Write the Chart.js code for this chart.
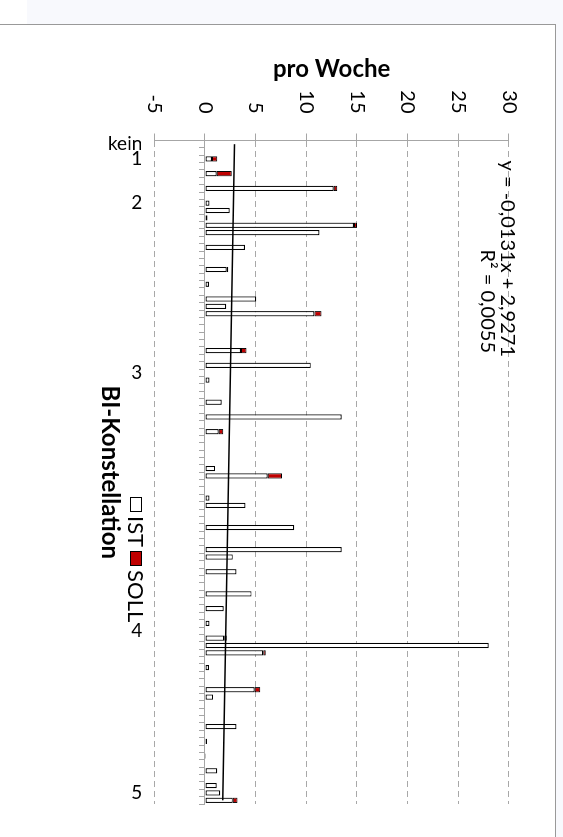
<!DOCTYPE html>
<html lang="de">
<head>
<meta charset="utf-8">
<title>pro Woche</title>
<script src="https://cdn.jsdelivr.net/npm/chart.js@4.4.1/dist/chart.umd.min.js"></script>
<style>
  html, body { margin: 0; padding: 0; }
  body { width: 563px; height: 837px; background: #f8f9fd; position: relative; overflow: hidden; font-family: Lato, sans-serif; }
  #corner { position: absolute; left: 0; top: 0; width: 27px; height: 24px; background: #fff; }
  #frame { position: absolute; left: -2px; top: 24px; width: 556px; height: 830px; background: #fff; border: 1px solid #999; }
  /* the chart is drawn upright and then turned a quarter clockwise, like the reference */
  #rot { position: absolute; left: 0; top: 0; width: 813px; height: 555px; transform-origin: 0 0; transform: translate(555px, 24px) rotate(90deg); }
  #legend { position: absolute; left: 473px; top: 405px; display: flex; align-items: center; font-size: 22px; color: #000; }
  #legend .item { display: flex; align-items: center; margin-right: 4px; }
  #legend .box { width: 15px; height: 12px; border: 1px solid #000; margin-right: 4px; box-sizing: border-box; }
</style>
</head>
<body>
<div id="corner"></div>
<div id="frame"></div>
<div id="rot">
  <canvas id="chart" width="813" height="555"></canvas>
  <div id="legend"></div>
</div>
<script>
// category labels (most categories carry no label)
const categories = [
    "kein", "", "1", "", "", "", "", "", "2", "",
    "", "", "", "", "", "", "", "", "", "",
    "", "", "", "", "", "", "", "", "", "",
    "", "3", "", "", "", "", "", "", "", "",
    "", "", "", "", "", "", "", "", "", "",
    "", "", "", "", "", "", "", "", "", "",
    "", "", "", "", "", "", "4", "", "", "",
    "", "", "", "", "", "", "", "", "", "",
    "", "", "", "", "", "", "", "", "5", ""
];

const istValues = [
    null, null, 0.7, null, 1.15, null, 12.7, null, 0.45, 2.45,
    0.25, 14.7, 11.3, null, 3.95, null, null, 2.15, null, 0.4,
    null, 5.05, 2.1, 10.8, null, null, null, null, 3.55, null,
    10.45, null, 0.45, null, null, 1.65, null, 13.5, null, 1.35,
    null, null, null, null, 1.0, 6.2, null, null, 0.45, 4.0,
    null, null, 8.8, null, null, 13.5, 2.75, null, 3.1, null,
    null, 4.6, null, 1.85, null, 0.45, null, 1.9, 28.0, 5.75,
    null, 0.4, null, null, 4.9, 0.8, null, null, null, 3.1,
    null, 0.2, null, 0.1, null, 1.2, null, 1.15, 1.5, 2.75
];

const sollValues = [
    null, null, 0.5, null, 1.5, null, 0.35, null, null, null,
    null, 0.3, null, null, null, null, null, 0.15, null, null,
    null, null, null, 0.7, null, null, null, null, 0.55, null,
    null, null, null, null, null, null, null, null, null, 0.45,
    null, null, null, null, null, 1.4, null, null, null, null,
    null, null, null, null, null, null, null, null, null, null,
    null, null, null, null, null, null, null, 0.25, null, 0.25,
    null, null, null, null, 0.55, null, null, null, null, null,
    null, null, null, null, null, null, null, null, null, 0.45
];

// linear trend line: only its two end points (y = -0,0131x + 2,9271)
const trendValues = [
    2.914, null, null, null, null, null, null, null, null, null,
    null, null, null, null, null, null, null, null, null, null,
    null, null, null, null, null, null, null, null, null, null,
    null, null, null, null, null, null, null, null, null, null,
    null, null, null, null, null, null, null, null, null, null,
    null, null, null, null, null, null, null, null, null, null,
    null, null, null, null, null, null, null, null, null, null,
    null, null, null, null, null, null, null, null, null, null,
    null, null, null, null, null, null, null, null, null, 1.748
];
const trendText = ["y = -0,0131x + 2,9271", "R\u00b2 = 0,0055"];

const valueMin = -5;
const valueMax = 30;
const valueStep = 5;

Chart.defaults.font.family = "Lato, sans-serif";
Chart.defaults.color = "#000";

const trendLabel = {
    id: "trendLabel",
    afterDatasetsDraw(chart) {
        const ctx = chart.ctx;
        ctx.save();
        ctx.font = "20px Lato, sans-serif";
        ctx.fillStyle = "#000";
        ctx.textAlign = "right";
        ctx.textBaseline = "middle";
        ctx.fillText(trendText[0], 333, 48);
        ctx.fillText(trendText[1], 329, 68);
        ctx.restore();
    }
};

const chart = new Chart(document.getElementById("chart"), {
    data: {
        labels: categories,
        datasets: [
            {
                type: "line",
                label: "Trend",
                data: trendValues,
                borderColor: "#000",
                borderWidth: 1.4,
                pointRadius: 0,
                spanGaps: true,
                stack: "trend",
                order: 0
            },
            {
                type: "bar",
                label: "IST",
                data: istValues,
                backgroundColor: "#fff",
                borderColor: "#000",
                borderWidth: 1.2,
                borderSkipped: false,
                stack: "woche",
                order: 1
            },
            {
                type: "bar",
                label: "SOLL",
                data: sollValues,
                backgroundColor: "#c00000",
                borderColor: "#000",
                borderWidth: 1,
                borderSkipped: false,
                stack: "woche",
                order: 1
            }
        ]
    },
    options: {
        responsive: false,
        animation: false,
        layout: { padding: { left: 26.5, right: 33, top: 46, bottom: 91.3 } },
        datasets: { bar: { categoryPercentage: 0.72, barPercentage: 1 } },
        plugins: {
            legend: { display: false },
            tooltip: { enabled: false }
        },
        scales: {
            x: {
                stacked: true,
                offset: true,
                grid: { display: false, drawTicks: false, offset: true },
                border: { display: false },
                ticks: { autoSkip: false, minRotation: 90, maxRotation: 90, padding: 12, font: { size: 19 } },
                title: { display: true, text: "BI-Konstellation", font: { size: 24, weight: "bold" } },
                afterFit: s => { s.height = 63; }
            },
            // the category axis line itself sits at value 0
            x2: {
                type: "category",
                position: { y: 0 },
                offset: true,
                grid: { offset: true, drawOnChartArea: false, tickLength: 5, color: "#a6a6a6" },
                border: { color: "#a6a6a6", width: 1 },
                ticks: { display: false }
            },
            y: {
                stacked: true,
                min: valueMin,
                max: valueMax,
                ticks: { stepSize: valueStep, padding: 20, font: { size: 20 } },
                grid: { color: "#a8a8a8", tickLength: 7, tickColor: "#a6a6a6", tickBorderDash: [] },
                border: { color: "#a6a6a6", dash: [6, 4] },
                title: { display: true, text: "pro Woche", font: { size: 24, weight: "bold" } },
                afterFit: s => { s.width = 90; }
            }
        }
    },
    plugins: [trendLabel]
});

// legend as html, built from the bar datasets
const legend = document.getElementById("legend");
chart.data.datasets.filter(ds => ds.type === "bar").forEach(ds => {
    const item = document.createElement("div");
    item.className = "item";
    const box = document.createElement("span");
    box.className = "box";
    box.style.background = ds.backgroundColor;
    const text = document.createElement("span");
    text.textContent = ds.label;
    item.appendChild(box);
    item.appendChild(text);
    legend.appendChild(item);
});
</script>
</body>
</html>
